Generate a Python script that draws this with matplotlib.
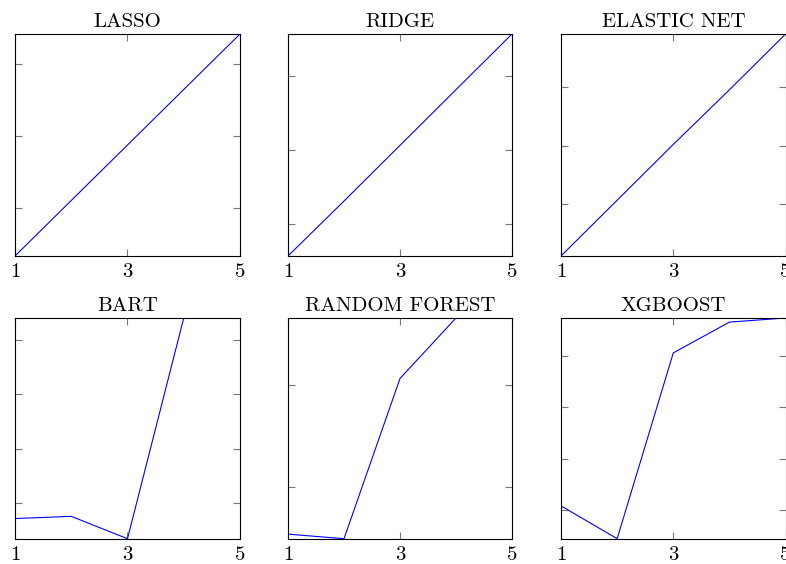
import matplotlib
matplotlib.use("Agg")
import matplotlib.pyplot as plt
from matplotlib.ticker import MultipleLocator, NullFormatter

plt.rcParams.update({
    "font.family": "cmr10",
    "axes.formatter.use_mathtext": True,
    "font.size": 15,
})

# data (y values; tick labels are hidden in the original)
x = [1, 2, 3, 4, 5]
titles = ["LASSO", "RIDGE", "ELASTIC NET", "BART", "RANDOM FOREST", "XGBOOST"]
lasso = [0.7233, 0.7310, 0.7387, 0.7464, 0.7541]
ridge = [0.7157, 0.7231, 0.7306, 0.7381, 0.7456]
elastic = [0.7205, 0.7253, 0.7301, 0.7348, 0.7396]
bart = [0.6972, 0.6976, 0.6935, 0.7340, 0.7340]
rforest = [0.6907, 0.6898, 0.7213, 0.7332, 0.7332]
xgboost = [0.7004, 0.6972, 0.7153, 0.7183, 0.7187]
series = [lasso, ridge, elastic, bart, rforest, xgboost]
y_step = [0.01, 0.01, 0.005, 0.01, 0.02, 0.005]

W, H = 786, 564
fig = plt.figure(figsize=(W / 100, H / 100), dpi=100)

# axes boxes in pixels: (left, right) per column, (top, bottom) per row
cols = [(15, 240), (288, 512), (561, 785.6)]
rows = [(34, 256), (318, 538.7)]

for i, (ys, title, step) in enumerate(zip(series, titles, y_step)):
    (x0, x1) = cols[i % 3]
    (t, b) = rows[i // 3]
    ax = fig.add_axes([x0 / W, (H - b) / H, (x1 - x0) / W, (b - t) / H])
    ax.plot(x, ys, color="#0000ff", lw=0.8)
    ax.set_xlim(1, 5)
    ax.set_ylim(min(ys), max(ys))
    ax.set_xticks([1, 3, 5])
    ax.set_xticklabels(["1", "3", "5"])
    ax.yaxis.set_major_locator(MultipleLocator(step))
    ax.yaxis.set_major_formatter(NullFormatter())
    ax.tick_params(direction="in", length=5, width=0.8, color="#777777",
                   top=True, right=True, pad=5)
    for s in ax.spines.values():
        s.set_linewidth(0.8)
    ax.set_title(title, fontsize=15, pad=5)

fig.savefig("out.png", dpi=100)
